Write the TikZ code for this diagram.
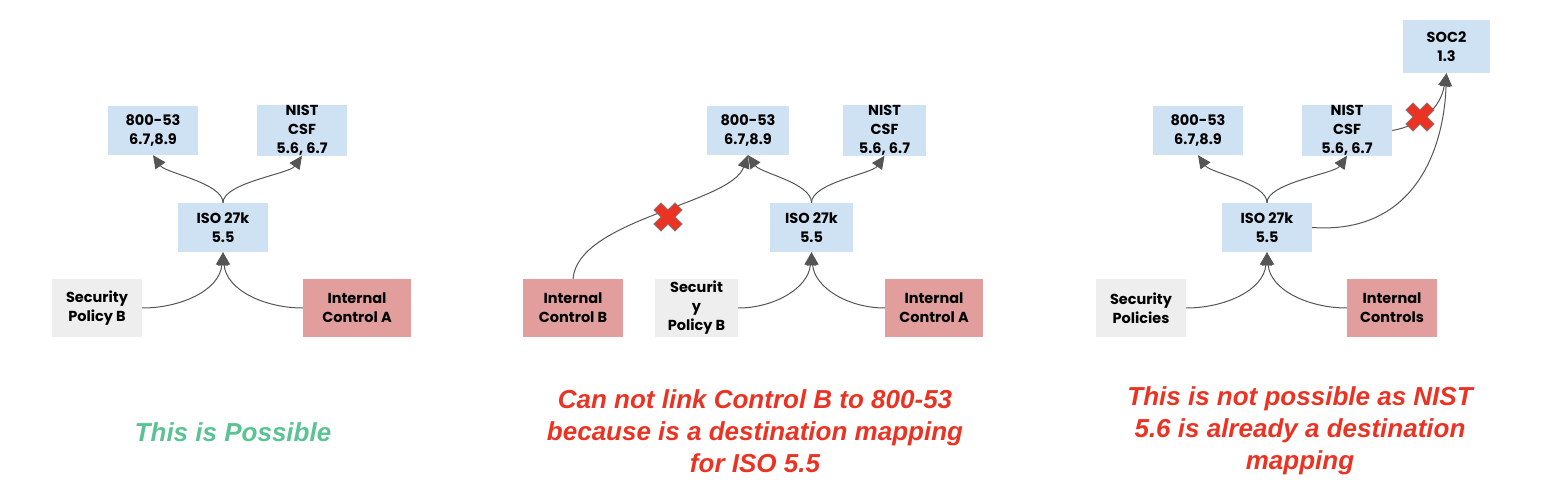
\documentclass[tikz,border=0pt]{standalone}
\usepackage{fontspec}
\setmainfont{Poppins}
\newfontfamily\notefont{Liberation Sans}
\usepackage{tikz}
\usetikzlibrary{shapes,arrows,arrows.meta,backgrounds,positioning,fit}

\definecolor{mapblue}{HTML}{CFE2F3}
\definecolor{policygray}{HTML}{EEEEEE}
\definecolor{controlred}{HTML}{E29D9D}
\definecolor{linkgray}{HTML}{555555}
\definecolor{crossred}{HTML}{EA3323}
\definecolor{crossedge}{HTML}{7A7A7A}
\definecolor{okgreen}{HTML}{5BC393}
\definecolor{badred}{HTML}{EA3323}

\tikzset{Cut/.pic={
	\path [fill=crossred, draw=crossedge, line width=0.7pt, rotate=45]
		(-5,-15) -- (5,-15) -- (5,-5) -- (15,-5) -- (15,5) -- (5,5) -- (5,15)
		-- (-5,15) -- (-5,5) -- (-15,5) -- (-15,-5) -- (-5,-5) -- cycle;
}}

\begin{document}
\begin{tikzpicture}[x=1pt, y=1pt]
				\tikzstyle{Box}		= [inner sep=0pt, align=center, minimum height=49pt, font=\fontsize{14.5}{19}\selectfont\bfseries]
				\tikzstyle{Map}		= [fill=mapblue]
				\tikzstyle{Policy}	= [fill=policygray, minimum height=58pt]
				\tikzstyle{Control}	= [fill=controlred, minimum height=58pt]
				\tikzstyle{Link}	= [draw=linkgray, line width=1pt, -{Triangle[length=13pt, width=12pt]}]
				\tikzstyle{UpLeft}	= [out=90, in=-55, out distance=20pt, in distance=22pt]
				\tikzstyle{UpRight}	= [out=90, in=-125, out distance=20pt, in distance=22pt]
				\tikzstyle{Note}	= [align=center, font=\notefont\fontsize{26}{32}\selectfont\bfseries\itshape]

				\useasboundingbox (0,0) rectangle (1542,-494);

				% possible
				\node (a1) at (153,-130.5) [Box][Map][minimum width=90pt] {800-53\\6.7,8.9};
				\node (n1) at (302,-130.5) [Box][Map][minimum width=90pt] {NIST\\CSF\\5.6, 6.7};
				\node (i1) at (223,-227.5) [Box][Map][minimum width=90pt] {ISO 27k\\5.5};
				\node (s1) at (97,-308) [Box][Policy][minimum width=90pt] {Security\\Policy B};
				\node (c1) at (357,-308) [Box][Control][minimum width=108pt] {Internal\\Control A};

				\draw [Link] (i1.north) to [UpLeft] (a1.south);
				\draw [Link] (i1.north) to [UpRight] (n1.south);
				\draw [Link] (s1.east) to [out=0, in=-95] (i1.south);
				\draw [Link] (c1.west) to [out=180, in=-85] (i1.south);

				\node (t1) at (233,-432) [Note][text=okgreen] {This is Possible};

				% second destination
				\node (a2) at (748,-130.5) [Box][Map][minimum width=82pt] {800-53\\6.7,8.9};
				\node (n2) at (884.5,-130.5) [Box][Map][minimum width=83pt] {NIST\\CSF\\5.6, 6.7};
				\node (i2) at (811.5,-227.5) [Box][Map][minimum width=83pt] {ISO 27k\\5.5};
				\node (b2) at (573,-308) [Box][Control][minimum width=100pt] {Internal\\Control B};
				\node (s2) at (696.5,-308) [Box][Policy][minimum width=83pt] {Securit\\y\\Policy B};
				\node (c2) at (934,-308) [Box][Control][minimum width=98pt] {Internal\\Control A};

				\draw [Link] (i2.north) to [UpLeft] (a2.south);
				\draw [Link] (i2.north) to [UpRight] (n2.south);
				\draw [Link] (b2.north) to [out=85, in=-110, out distance=60pt, in distance=52pt] (a2.south);
				\draw [Link] (s2.east) to [out=0, in=-95] (i2.south);
				\draw [Link] (c2.west) to [out=180, in=-85] (i2.south);
				\pic at (668,-217) {Cut};

				\node (t2) at (755,-431) [Note][text=badred] {Can not link Control B to 800-53\\because is a destination mapping\\for ISO 5.5};

				% not possible
				\node (o3) at (1446.5,-46.5) [Box][Map][minimum width=87pt, minimum height=53pt] {SOC2\\1.3};
				\node (a3) at (1198,-130.5) [Box][Map][minimum width=90pt] {800-53\\6.7,8.9};
				\node (n3) at (1347,-130.5) [Box][Map][minimum width=90pt] {NIST\\CSF\\5.6, 6.7};
				\node (i3) at (1267,-227.5) [Box][Map][minimum width=90pt] {ISO 27k\\5.5};
				\node (s3) at (1141,-308) [Box][Policy][minimum width=90pt] {Security\\Policies};
				\node (c3) at (1392,-308) [Box][Control][minimum width=90pt] {Internal\\Controls};

				\draw [Link] (i3.north) to [UpLeft] (a3.south);
				\draw [Link] (i3.north) to [UpRight] (n3.south);
				\draw [Link] (s3.east) to [out=0, in=-95] (i3.south);
				\draw [Link] (c3.west) to [out=180, in=-85] (i3.south);
				\draw [Link] (i3.east) to [out=-4, in=-92, out distance=100pt, in distance=80pt] (o3.south);
				\draw [Link] (n3.east) to [out=10, in=-100, out distance=30pt, in distance=35pt] (o3.south);
				\pic at (1420,-117) {Cut};

				\node (t3) at (1300,-431) [Note][text=badred] {This is not possible as NIST\\5.6 is already a destination\\mapping};
			\end{tikzpicture}
\end{document}
